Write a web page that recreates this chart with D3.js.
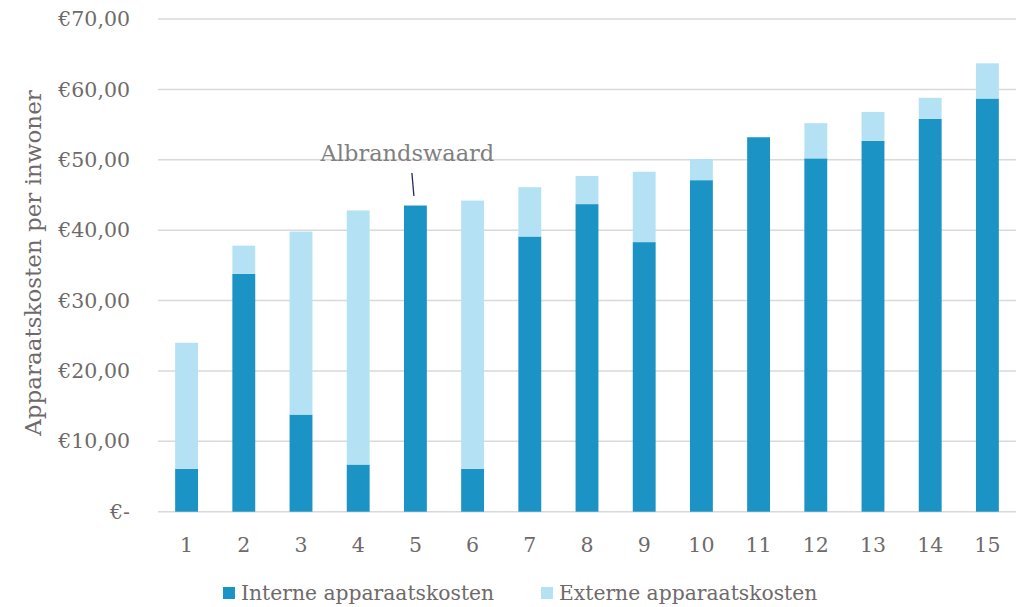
<!DOCTYPE html>
<html>
<head>
<meta charset="utf-8">
<script src="https://cdn.jsdelivr.net/npm/d3@7"></script>
<style>
  body { margin: 0; background: #fff; }
  text { font-family: "DejaVu Serif", serif; }
</style>
</head>
<body>
<div id="chart"></div>
<script>
let categories = d3.range(1, 16);
let interne = [6.1, 33.8, 13.8, 6.7, 43.5, 6.1, 39.1, 43.7, 38.3, 47.1, 53.2, 50.2, 52.7, 55.8, 58.7];
let externe = [17.9, 4.0, 26.0, 36.1, 0, 38.1, 7.0, 4.0, 10.0, 3.0, 0, 5.0, 4.1, 3.0, 5.0];
let yTicks = [0, 10, 20, 30, 40, 50, 60, 70];
let seriesNames = ["Interne apparaatskosten", "Externe apparaatskosten"];
let colors = ["#1b93c5", "#b4e1f3"];

let width = 1016, height = 607;
let margin = {top: 19, right: 0, bottom: 95, left: 158};

let svg = d3.select("#chart").append("svg")
    .attr("width", width)
    .attr("height", height);

let x = d3.scaleBand()
    .domain(categories)
    .range([margin.left, width])
    .paddingInner(0.6)
    .paddingOuter(0.3);

let y = d3.scaleLinear()
    .domain([0, 70])
    .range([height - margin.bottom - 0.3, margin.top]);

// gridlines
svg.append("g")
    .selectAll("line")
    .data(yTicks)
    .enter().append("line")
    .attr("x1", margin.left)
    .attr("x2", width)
    .attr("y1", d => y(d))
    .attr("y2", d => y(d))
    .style("stroke", "#d9d9d9")
    .style("stroke-width", 1.5);

// y labels
svg.append("g")
    .selectAll("text")
    .data(yTicks)
    .enter().append("text")
    .attr("x", 130)
    .attr("y", d => y(d))
    .attr("dy", "0.35em")
    .style("text-anchor", "end")
    .style("font-size", "20.5px")
    .style("fill", "#6f6a6a")
    .text(d => d === 0 ? "€-" : "€" + d.toFixed(2).replace(".", ","));

// stacked data
let stackData = categories.map((c, i) => ({cat: c, interne: interne[i], externe: externe[i]}));
let stack = d3.stack().keys(["interne", "externe"])(stackData);

svg.append("g")
    .selectAll("g")
    .data(stack)
    .enter().append("g")
    .style("fill", (d, i) => colors[i])
    .selectAll("rect")
    .data(d => d)
    .enter().append("rect")
    .attr("x", d => x(d.data.cat))
    .attr("width", x.bandwidth())
    .attr("y", d => y(d[1]))
    .attr("height", d => y(d[0]) - y(d[1]));

// x labels
svg.append("g")
    .selectAll("text")
    .data(categories)
    .enter().append("text")
    .attr("x", d => x(d) + x.bandwidth() / 2)
    .attr("y", 552)
    .style("text-anchor", "middle")
    .style("font-size", "20.5px")
    .style("fill", "#6f6a6a")
    .text(d => d);

// axis title
svg.append("text")
    .attr("transform", "translate(41," + 263 + ") rotate(-90)")
    .style("text-anchor", "middle")
    .style("font-size", "23px")
    .style("fill", "#6f6a6a")
    .text("Apparaatskosten per inwoner");

// annotation
let annX = x(5) + x.bandwidth() / 2;
svg.append("text")
    .attr("x", annX - 8)
    .attr("y", 161)
    .style("text-anchor", "middle")
    .style("font-size", "22.5px")
    .style("fill", "#808080")
    .text("Albrandswaard");
svg.append("line")
    .attr("x1", annX - 3.5)
    .attr("y1", 173)
    .attr("x2", annX - 1.5)
    .attr("y2", 196)
    .style("stroke", "#1f2d5a")
    .style("stroke-width", 1.3);

// legend
let legend = svg.append("g")
    .selectAll("g")
    .data(seriesNames)
    .enter().append("g")
    .attr("transform", (d, i) => "translate(" + (i === 0 ? 223 : 541) + ",587)");
legend.append("rect")
    .attr("width", 12)
    .attr("height", 12)
    .style("fill", (d, i) => colors[i]);
legend.append("text")
    .attr("x", 18)
    .attr("y", 6)
    .attr("dy", "0.35em")
    .style("font-size", "20.3px")
    .style("fill", "#6f6a6a")
    .text(d => d);
</script>
</body>
</html>
